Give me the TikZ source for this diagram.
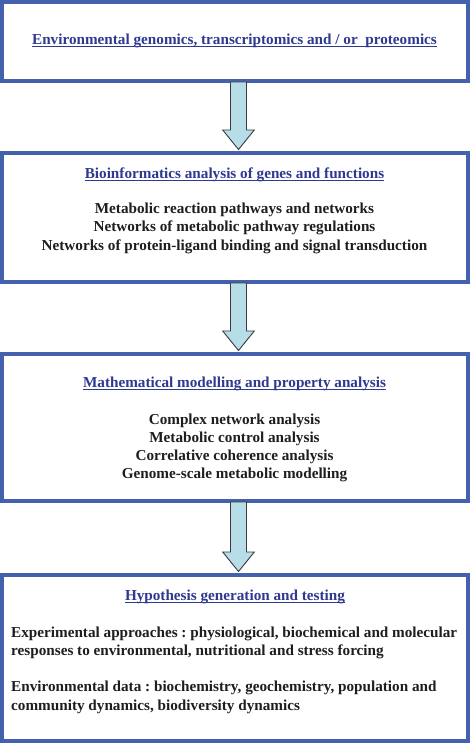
\documentclass[tikz,border=0pt]{standalone}
\usepackage{fontspec}
\setmainfont{Liberation Serif}
\usetikzlibrary{calc}
\frenchspacing
\definecolor{boxblue}{HTML}{4461AE}
\definecolor{titleblue}{HTML}{2F3990}
\definecolor{bodytext}{HTML}{1E1E1E}
\definecolor{arrowfill}{HTML}{B7DEE8}
\definecolor{arrowline}{HTML}{3A3A3A}
\tikzset{
  frame/.style={draw=boxblue, line width=4pt, fill=white, inner sep=0pt, minimum width=466pt},
  ttl/.style={font=\fontsize{15.2}{18.3}\selectfont\bfseries, text=titleblue, inner sep=0pt, anchor=base},
  body/.style={font=\fontsize{15.2}{18.3}\selectfont\bfseries, text=bodytext, inner sep=0pt, anchor=base},
  bodyl/.style={body, anchor=base west},
  ulline/.style={draw=titleblue, line width=0.9pt},
  blockarrow/.style={draw=arrowline, line width=0.9pt, fill=arrowfill, line join=miter},
}
\newcommand\blockarr[2]{%
  \draw[blockarrow] let \p1=(#1), \p2=(#2) in
    (\x1-8pt,\y1) -- (\x1-8pt,\y2+19.5pt) -- (\x1-15.8pt,\y2+19.5pt) -- (\x2,\y2)
    -- (\x1+15.8pt,\y2+19.5pt) -- (\x1+8pt,\y2+19.5pt) -- (\x1+8pt,\y1) -- cycle;}
\begin{document}
\begin{tikzpicture}[x=1pt,y=-1pt]
\useasboundingbox (0,0) rectangle (470,743);
% boxes
\node[frame, minimum height=79pt]  (b1) at (235,41.5) {};
\node[frame, minimum height=129pt] (b2) at (235,217.5) {};
\node[frame, minimum height=147pt] (b3) at (235,427.5) {};
\node[frame, minimum height=166pt] (b4) at (235,658) {};
% arrows
\coordinate (a1s) at ([xshift=3.5pt,yshift=1pt]b1.south);
\coordinate (a1e) at ([xshift=3.5pt,yshift=1.5pt]b2.north);
\coordinate (a2s) at ([xshift=3.5pt,yshift=1pt]b2.south);
\coordinate (a2e) at ([xshift=3.5pt,yshift=1.5pt]b3.north);
\coordinate (a3s) at ([xshift=3.5pt,yshift=1pt]b3.south);
\coordinate (a3e) at ([xshift=3.5pt,yshift=1.5pt]b4.north);
\blockarr{a1s}{a1e}
\blockarr{a2s}{a2e}
\blockarr{a3s}{a3e}
% box 1
\node[ttl] (t1) at (234.5,44.5) {Environmental genomics, transcriptomics and / or\ \ proteomics};
\draw[ulline] ([yshift=-2pt]t1.base west) -- ([yshift=-2pt]t1.base east);
% box 2
\node[ttl] (t2) at (234.5,178.3) {Bioinformatics analysis of genes and functions};
\draw[ulline] ([yshift=-2pt]t2.base west) -- ([yshift=-2pt]t2.base east);
\node[body] (l21) at (234.5,213.5) {Metabolic reaction pathways and networks};
\node[body] (l22) at (234.5,231.8) {Networks of metabolic pathway regulations};
\node[body] (l23) at (234.5,250.1) {Networks of protein-ligand binding and signal transduction};
% box 3
\node[ttl] (t3) at (234.5,387.5) {Mathematical modelling and property analysis};
\draw[ulline] ([yshift=-2pt]t3.base west) -- ([yshift=-2pt]t3.base east);
\node[body] (l31) at (234.5,424) {Complex network analysis};
\node[body] (l32) at (234.5,442.2) {Metabolic control analysis};
\node[body] (l33) at (234.5,460.4) {Correlative coherence analysis};
\node[body] (l34) at (234.5,478.6) {Genome-scale metabolic modelling};
% box 4
\node[ttl] (t4) at (235,600.7) {Hypothesis generation and testing};
\draw[ulline] ([yshift=-2pt]t4.base west) -- ([yshift=-2pt]t4.base east);
\node[bodyl] (l41) at (11,637.3) {Experimental approaches : physiological, biochemical and molecular};
\node[bodyl] (l42) at (11,655.5) {responses to environmental, nutritional and stress forcing};
\node[bodyl] (l43) at (11,691.8) {Environmental data : biochemistry, geochemistry, population and};
\node[bodyl] (l44) at (11,710) {community dynamics, biodiversity dynamics};
\end{tikzpicture}
\end{document}
